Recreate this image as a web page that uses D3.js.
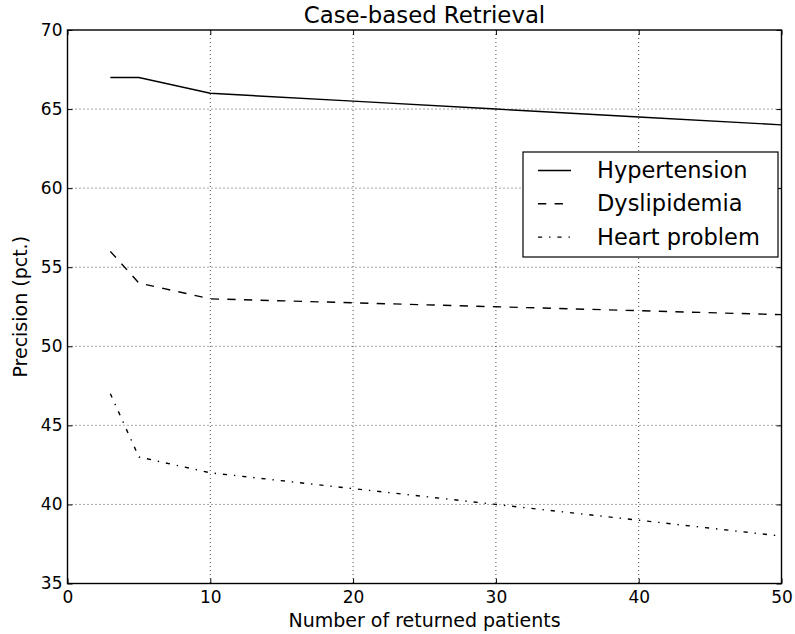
<!DOCTYPE html>
<html>
<head>
<meta charset="utf-8">
<script src="https://cdn.jsdelivr.net/npm/d3@7"></script>
<style>
  body { margin: 0; background: #fff; }
  svg { display: block; font-family: "DejaVu Sans", sans-serif; }
</style>
</head>
<body>
<div id="chart"></div>
<script>
// data
var xValues = [3, 5, 10, 20, 30, 40, 50];
var hypertension = [67, 67, 66, 65.5, 65, 64.5, 64];
var dyslipidemia = [56, 54, 53, 52.75, 52.5, 52.25, 52];
var heartProblem = [47, 43, 42, 41, 40, 39, 38];
var seriesNames = ["Hypertension", "Dyslipidemia", "Heart problem"];
var xTicks = [0, 10, 20, 30, 40, 50];
var yTicks = [35, 40, 45, 50, 55, 60, 65, 70];

var W = 795, H = 634;
var margin = { top: 30, right: 13.5, bottom: 50.5, left: 67.5 },
    w = W - margin.left - margin.right,
    h = H - margin.top - margin.bottom;

var x = d3.scaleLinear().domain([0, 50]).range([0, w]);
var y = d3.scaleLinear().domain([35, 70]).range([h, 0]);

var dashes = ["none", "8.3,8.3", "4.2,6.9,1.4,6.9"];
var allSeries = [hypertension, dyslipidemia, heartProblem];

var svg = d3.select("#chart").append("svg")
    .attr("width", W).attr("height", H);
var g = svg.append("g")
    .attr("transform", "translate(" + margin.left + "," + margin.top + ")");

// grid
g.selectAll(".vgrid").data(xTicks.slice(1, -1)).enter().append("line")
    .attr("x1", d => x(d)).attr("x2", d => x(d))
    .attr("y1", 0).attr("y2", h)
    .attr("stroke", "#000").attr("stroke-width", 0.7)
    .attr("stroke-dasharray", "1,3");
g.selectAll(".hgrid").data(yTicks.slice(1, -1)).enter().append("line")
    .attr("y1", d => y(d)).attr("y2", d => y(d))
    .attr("x1", 0).attr("x2", w)
    .attr("stroke", "#000").attr("stroke-width", 0.7)
    .attr("stroke-dasharray", "1,3");

// lines
var line = d3.line()
    .x(function(d, i) { return x(xValues[i]); })
    .y(function(d) { return y(d); });
allSeries.forEach(function(s, k) {
    g.append("path").datum(s)
        .attr("d", line)
        .attr("fill", "none")
        .attr("stroke", "#000")
        .attr("stroke-width", 1.4)
        .attr("stroke-dasharray", dashes[k]);
});

// axes: inward ticks on all sides, labels only bottom/left
var xAxis = d3.axisBottom(x).tickValues(xTicks).tickSizeInner(-5).tickSizeOuter(0).tickPadding(7);
var yAxis = d3.axisLeft(y).tickValues(yTicks).tickSizeInner(-5).tickSizeOuter(0).tickPadding(5);
var xAxisTop = d3.axisTop(x).tickValues(xTicks).tickSizeInner(-5).tickSizeOuter(0).tickFormat("");
var yAxisRight = d3.axisRight(y).tickValues(yTicks).tickSizeInner(-5).tickSizeOuter(0).tickFormat("");

function styleAxis(sel) {
    sel.select(".domain").remove();
    sel.selectAll("text").attr("fill", "#000").style("font-size", "17px")
        .style("font-family", "DejaVu Sans, sans-serif");
    sel.selectAll("line").attr("stroke", "#000").attr("stroke-width", 1);
}
g.append("g").attr("transform", "translate(0," + h + ")").call(xAxis).call(styleAxis);
g.append("g").call(yAxis).call(styleAxis);
g.append("g").call(xAxisTop).call(styleAxis);
g.append("g").attr("transform", "translate(" + w + ",0)").call(yAxisRight).call(styleAxis);

// frame
g.append("rect").attr("width", w).attr("height", h)
    .attr("fill", "none").attr("stroke", "#000").attr("stroke-width", 1.4);

// title and labels
svg.append("text").attr("x", margin.left + w / 2).attr("y", 23)
    .attr("text-anchor", "middle").style("font-size", "22.8px").text("Case-based Retrieval");
svg.append("text").attr("x", margin.left + w / 2).attr("y", 627)
    .attr("text-anchor", "middle").style("font-size", "19px").text("Number of returned patients");
svg.append("text").attr("transform", "translate(27," + (margin.top + h / 2) + ") rotate(-90)")
    .attr("text-anchor", "middle").style("font-size", "19px").text("Precision (pct.)");

// legend
var lg = svg.append("g").attr("transform", "translate(523,152)");
lg.append("rect").attr("width", 255).attr("height", 105)
    .attr("fill", "#fff").attr("stroke", "#000").attr("stroke-width", 1.2);
seriesNames.forEach(function(name, k) {
    var base = 26 + k * 33.3;
    lg.append("line").attr("x1", 15).attr("x2", 48).attr("y1", base - 7.5).attr("y2", base - 7.5)
        .attr("stroke", "#000").attr("stroke-width", 1.4)
        .attr("stroke-dasharray", dashes[k]);
    lg.append("text").attr("x", 74).attr("y", base)
        .style("font-size", "22.5px").text(name);
});
</script>
</body>
</html>
